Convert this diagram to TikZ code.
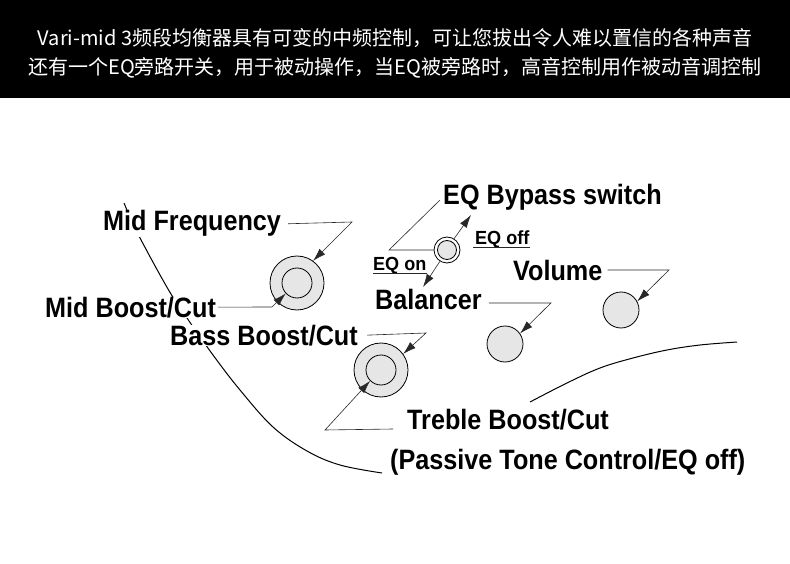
\documentclass[tikz,border=0pt]{standalone}
\usepackage{fontspec}
\setmainfont{Liberation Sans}
\newfontfamily\cjkfont{Noto Sans CJK SC}
\newfontfamily\condfont[FakeStretch=0.9]{Liberation Sans}
\newfontfamily\smallcondfont[FakeStretch=0.95]{Liberation Sans}
\usepackage{tikz}
\usetikzlibrary{arrows.meta}
\definecolor{knobGray}{RGB}{230,230,230}
\definecolor{leadGray}{RGB}{40,40,40}

\begin{document}
\begin{tikzpicture}[x=1pt, y=1pt,
  head/.style={text=white, anchor=base, inner sep=0pt, font=\cjkfont\fontsize{20}{24}\selectfont},
  lbl/.style={fill=white, anchor=base west, inner sep=0pt, font=\condfont\bfseries\fontsize{28}{30}\selectfont},
  swlbl/.style={anchor=base west, inner sep=0pt, font=\smallcondfont\bfseries\fontsize{19}{21}\selectfont},
  knob/.style={circle, draw, line width=0.8pt, fill=knobGray, inner sep=0pt},
  leader/.style={leadGray, line width=0.6pt},
  pointer/.style={leader, -{Latex[length=13pt,width=8pt]}},
  outline/.style={line width=1pt}]
\useasboundingbox (0,0) rectangle (790,-564);
\fill[black] (0,0) rectangle (790,-98);
\node[head] (line1) at (395,-45.5) {Vari-mid 3频段均衡器具有可变的中频控制，可让您拔出令人难以置信的各种声音};
\node[head] (line2) at (395,-75) {还有一个EQ旁路开关，用于被动操作，当EQ被旁路时，高音控制用作被动音调控制};
\draw[outline] plot[smooth, tension=0.6] coordinates {(124,-203) (138,-234) (168,-289) (187,-318) (213,-355) (240,-390) (273,-427) (307,-451) (340,-465) (382,-473)};
\draw[outline] plot[smooth, tension=0.6] coordinates {(530,-402) (567,-383) (600,-368) (633,-358) (667,-350) (700,-345) (737,-342)};
\node[lbl] (midfreq) at (103,-231) {Mid Frequency};
\node[lbl] (midcut) at (45,-317) {Mid Boost/Cut};
\node[lbl] (basscut) at (170,-345) {Bass Boost/Cut};
\node[lbl] (bypass) at (443,-205) {EQ Bypass switch};
\node[lbl] (bal) at (375,-309) {Balancer};
\node[lbl] (vol) at (513,-280) {Volume};
\node[lbl] (treble) at (407,-429) {Treble Boost/Cut};
\node[lbl] (passive) at (390,-469) {(Passive Tone Control/EQ off)};
\node[swlbl] (eqon) at (373,-270) {EQ on};
\node[swlbl] (eqoff) at (475,-245) {EQ off};
\node[knob, minimum size=54pt] (mid) at (297,-283) {};
\node[knob, minimum size=30pt] (midin) at (297,-283) {};
\node[knob, minimum size=54pt] (bass) at (381,-370) {};
\node[knob, minimum size=30pt] (bassin) at (381,-370) {};
\node[knob, minimum size=36pt] (balknob) at (505,-344) {};
\node[knob, minimum size=36pt] (volknob) at (621,-310) {};
\node[knob, fill=white, minimum size=26pt] (sw) at (447,-250) {};
\node[knob, minimum size=19pt] (swin) at (447,-250) {};
\coordinate (mfbend) at (352,-222);
\coordinate (mcbend) at (272,-307);
\coordinate (bcbend) at (426,-333);
\coordinate (tbend) at (325,-430);
\coordinate (balbend) at (551,-303);
\coordinate (volbend) at (669,-270);
\coordinate (bpbend) at (389,-250);
\coordinate (offtip) at (471,-215);
\coordinate (ontip) at (423,-287);
\draw[pointer] ([xshift=7pt]midfreq.east) -- (mfbend) -- (mid.54);
\draw[pointer] ([xshift=2pt]midcut.east) -- (mcbend) -- (midin.223);
\draw[pointer] ([xshift=9pt]basscut.east) -- (bcbend) -- (bass.36);
\draw[pointer] ([xshift=-14pt]treble.base west) -- (tbend) -- (bassin.225);
\draw[pointer] ([xshift=7pt,yshift=-4pt]bal.east) -- (balbend) -- (balknob.35);
\draw[pointer] ([xshift=5pt]vol.east) -- (volbend) -- (volknob.28);
\draw[leader] (sw.west) -- (bpbend) -- ([xshift=-3pt,yshift=5pt]bypass.base west);
\draw[pointer] (sw.58) -- (offtip);
\draw[pointer] (sw.238) -- (ontip);
\draw[leader] ([yshift=-3pt]eqon.base west) -- ([yshift=-3pt]eqon.base east);
\draw[leader] ([xshift=-2pt,yshift=-2.5pt]eqoff.base west) -- ([yshift=-2.5pt]eqoff.base east);
\end{tikzpicture}
\end{document}
